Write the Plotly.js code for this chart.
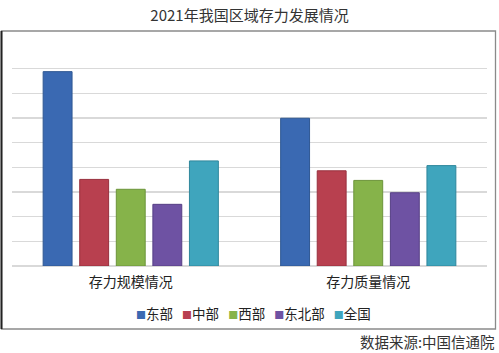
<!DOCTYPE html>
<html>
<head>
<meta charset="utf-8">
<script src="https://cdn.plot.ly/plotly-3.0.1.min.js"></script>
<style>
html,body{margin:0;padding:0;background:#fff;}
#chart{width:499px;height:353px;}
</style>
</head>
<body>
<div id="chart"></div>
<script>
var categories = ["存力规模情况", "存力质量情况"];
var seriesNames = ["东部", "中部", "西部", "东北部", "全国"];
var eastValues = [7.88, 5.99];
var centralValues = [3.51, 3.86];
var westValues = [3.11, 3.47];
var northeastValues = [2.50, 2.97];
var nationalValues = [4.26, 4.07];
var seriesColors = ["#3a69b2", "#b8404f", "#86b34a", "#6e52a3", "#3fa5bd"];
var lineColors = ["#2f5893", "#98303e", "#6c943a", "#563f85", "#2f879c"];
var titleText = "2021年我国区域存力发展情况";
var sourceText = "数据来源:中国信通院";

var allValues = [eastValues, centralValues, westValues, northeastValues, nationalValues];
var traces = allValues.map(function (vals, i) {
  return {
    type: "bar",
    name: seriesNames[i],
    x: categories,
    y: vals,
    marker: {color: seriesColors[i], line: {color: lineColors[i], width: 1}},
    showlegend: false,
    hoverinfo: "x+y+name"
  };
});

var legendText = seriesNames.map(function (n, i) {
  return '<span style="color:' + seriesColors[i] + ';font-size:10px">■</span>' + n;
}).join("&nbsp;&nbsp;&nbsp;");

var L = 12, R = 487, T = 44, B = 266;
function px2x(px) { return (px - L) / (R - L); }
function py2y(py) { return (B - py) / (B - T); }

var layout = {
  width: 499, height: 353,
  margin: {l: L, r: 499 - R, t: T, b: 353 - B, pad: 0},
  paper_bgcolor: "#ffffff",
  plot_bgcolor: "#ffffff",
  font: {family: "'Noto Sans CJK SC', 'DejaVu Sans', sans-serif", color: "#222"},
  title: {
    text: titleText,
    font: {size: 15, color: "#333", family: "'Noto Sans CJK SC', 'Liberation Sans', sans-serif"},
    x: 0.5, xref: "container", xanchor: "center",
    y: 1 - 16 / 353, yref: "container", yanchor: "middle"
  },
  barmode: "group",
  bargap: 0.23,
  bargroupgap: 0.21,
  xaxis: {
    showgrid: false, zeroline: false, showline: false, ticks: "",
    tickfont: {size: 14, color: "#222"},
    ticklabelstandoff: 6
  },
  yaxis: {
    range: [0, 9], dtick: 1, tick0: 0,
    showticklabels: false, ticks: "",
    showgrid: true, gridcolor: "#d9d9d9", gridwidth: 1.5,
    zeroline: true, zerolinecolor: "#d9d9d9", zerolinewidth: 1.5,
    showline: false, fixedrange: true
  },
  shapes: [
    {type: "rect", xref: "paper", yref: "paper",
     x0: px2x(1.5), x1: px2x(495.5), y0: py2y(329), y1: py2y(31),
     line: {color: "#8a8a8a", width: 1.3}, fillcolor: "rgba(0,0,0,0)", layer: "below"},
    {type: "line", xref: "paper", yref: "paper",
     x0: px2x(1.5), x1: px2x(1.5), y0: py2y(329), y1: py2y(31),
     line: {color: "#222", width: 2}}
  ],
  annotations: [
    {text: legendText, xref: "paper", yref: "paper",
     x: px2x(253), y: py2y(313), xanchor: "center", yanchor: "middle",
     showarrow: false, font: {size: 13.5, color: "#222"}},
    {text: sourceText, xref: "paper", yref: "paper",
     x: px2x(497), y: py2y(341), xanchor: "right", yanchor: "middle",
     showarrow: false, font: {size: 14.5, color: "#333", family: "'Noto Sans CJK SC', serif"}}
  ],
  showlegend: false
};

Plotly.newPlot("chart", traces, layout, {displayModeBar: false, staticPlot: true});
</script>
</body>
</html>
